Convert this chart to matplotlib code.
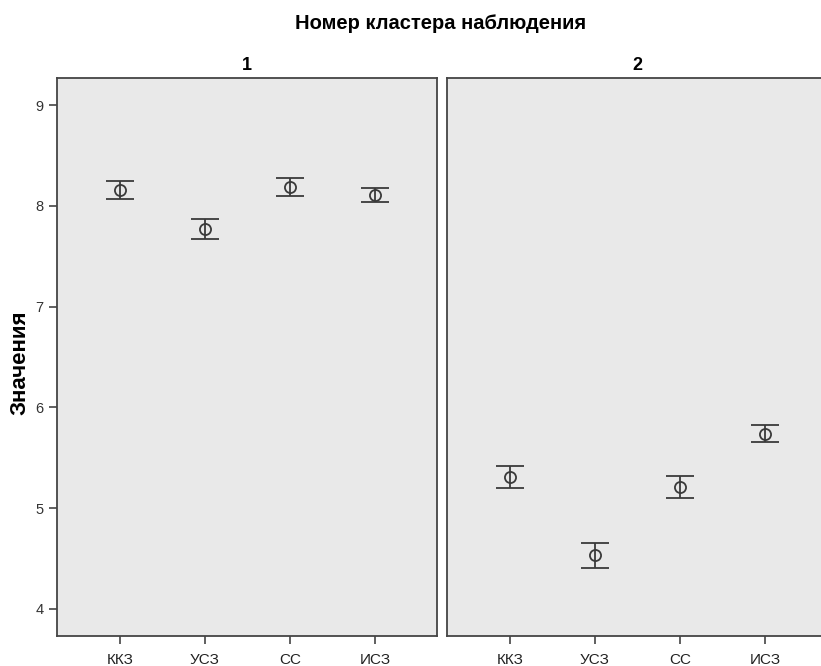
import matplotlib.pyplot as plt

categories = ['ККЗ', 'УСЗ', 'СС', 'ИСЗ']
clusters = ['1', '2']

# mean and half-width of the error bar for each cluster
means_1 = [8.16, 7.77, 8.19, 8.11]
errs_1 = [0.09, 0.10, 0.09, 0.07]
means_2 = [5.31, 4.53, 5.21, 5.74]
errs_2 = [0.11, 0.12, 0.11, 0.08]

y_ticks = [4, 5, 6, 7, 8, 9]

plt.rcParams['font.family'] = ['Liberation Sans', 'DejaVu Sans']

fig = plt.figure(figsize=(8.21, 6.66), dpi=100)
# second panel runs past the right edge, as in the original export
ax1 = fig.add_axes([57 / 821, 0.045, 380 / 821, 0.838])
ax2 = fig.add_axes([447 / 821, 0.045, 380 / 821, 0.838])

line_col = '#3a3a3a'
x = range(len(categories))

for ax, means, errs, name in [(ax1, means_1, errs_1, clusters[0]),
                              (ax2, means_2, errs_2, clusters[1])]:
    ax.set_facecolor('#e9e9e9')
    ax.errorbar(x, means, yerr=errs, fmt='o', mfc='none', mec=line_col,
                ms=8, mew=1.3, ecolor=line_col, elinewidth=1.3,
                capsize=10, capthick=1.5)
    ax.set_xlim(-0.74, 3.73)
    ax.set_ylim(3.73, 9.27)
    ax.set_xticks(list(x))
    ax.set_xticklabels(categories, fontsize=11, color='#222222')
    ax.set_title(name, fontsize=13, fontweight='bold', pad=6)
    for s in ax.spines.values():
        s.set_color('#444444')
        s.set_linewidth(1.3)
    ax.tick_params(axis='x', length=6, width=1.2, color='#444444', pad=6)

ax1.set_yticks(y_ticks)
ax1.set_yticklabels([str(v) for v in y_ticks], fontsize=10.5, color='#333333')
ax1.tick_params(axis='y', length=6, width=1.2, color='#444444')
ax1.set_ylabel('Значения', fontsize=16, fontweight='bold')
ax1.yaxis.set_label_coords(-0.07, 0.49)

ax2.set_yticks([])

fig.text(441 / 821, 0.965, 'Номер кластера наблюдения', ha='center', va='center',
         fontsize=14.5, fontweight='bold')

fig.savefig('out.png', dpi=100, facecolor='white')
